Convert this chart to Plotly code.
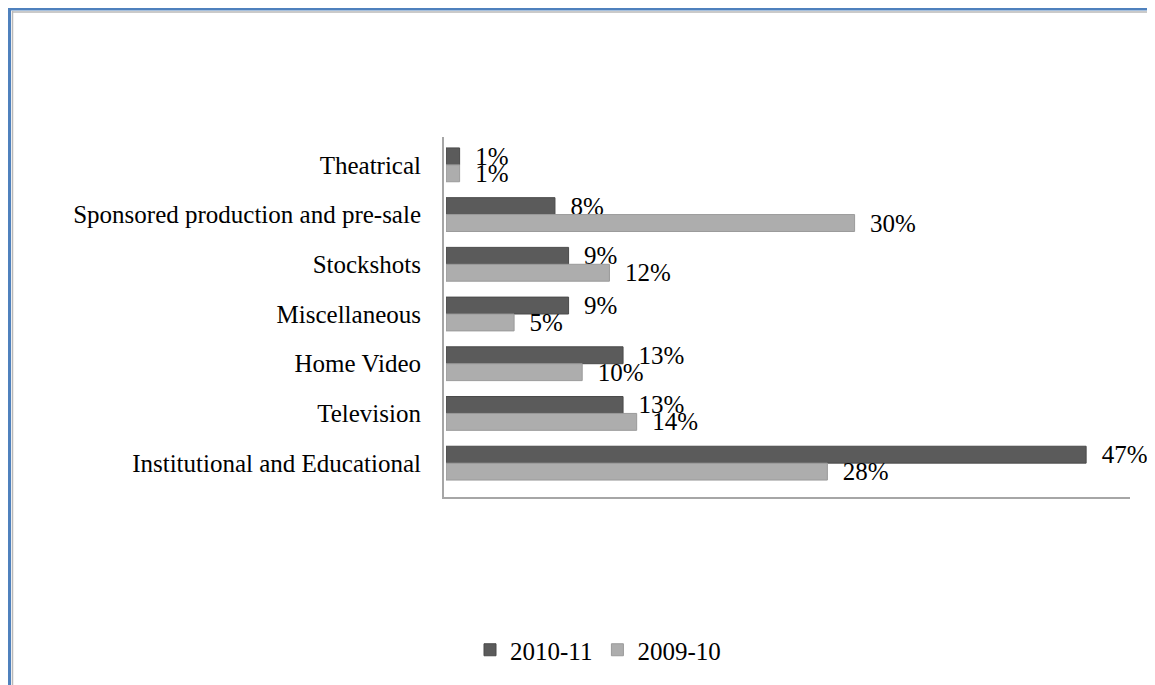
import plotly.graph_objects as go

categories = ["Theatrical", "Sponsored production and pre-sale", "Stockshots",
              "Miscellaneous", "Home Video", "Television", "Institutional and Educational"]
series_names = ["2010-11", "2009-10"]
values_2010_11 = [1, 8, 9, 9, 13, 13, 47]
values_2009_10 = [1, 30, 12, 5, 10, 14, 28]

OFF = 8  # page body margin
W, H = 1155 - OFF, 685 - OFF
ML, MT = 446 - OFF, 140 - OFF
PW, PH = 681, 348
MR, MB = W - ML - PW, H - MT - PH

def px(x):
    # screen pixel -> paper x
    return (x - OFF - ML) / PW

def py(y):
    # screen pixel -> paper y
    return (MT + PH - (y - OFF)) / PH

FONT = "Liberation Serif, Times New Roman, serif"
colors = ["#5b5b5b", "#adadad"]
edges = ["#4a4a4a", "#9a9a9a"]

fig = go.Figure()
for name, vals, c, e in zip(series_names, [values_2010_11, values_2009_10], colors, edges):
    fig.add_trace(go.Bar(
        y=categories, x=vals, name=name, orientation="h",
        marker=dict(color=c, line=dict(color=e, width=1)),
        text=[f"\u00a0\u00a0{v}%" for v in vals],
        textposition="outside", constraintext="none", cliponaxis=False,
        textfont=dict(family=FONT, size=25, color="black"),
        hoverinfo="skip",
    ))

shapes = []
# outer blue frame (top & left)
shapes.append(dict(type="line", xref="paper", yref="paper", x0=px(8), x1=px(W + 20), y0=py(9), y1=py(9),
                   line=dict(color="#4f81bd", width=3)))
shapes.append(dict(type="line", xref="paper", yref="paper", x0=px(9.5), x1=px(9.5), y0=py(8), y1=py(H + 20),
                   line=dict(color="#4f81bd", width=3)))
# inner gray frame
shapes.append(dict(type="line", xref="paper", yref="paper", x0=px(12), x1=px(W + 20), y0=py(12), y1=py(12),
                   line=dict(color="#b8b8b8", width=1.5)))
shapes.append(dict(type="line", xref="paper", yref="paper", x0=px(12.5), x1=px(12.5), y0=py(11), y1=py(H + 20),
                   line=dict(color="#b8b8b8", width=1.5)))
# axis wall and floor
shapes.append(dict(type="line", xref="paper", yref="paper", x0=px(443), x1=px(443), y0=py(137), y1=py(498),
                   line=dict(color="#a6a6a6", width=2)))
shapes.append(dict(type="line", xref="paper", yref="paper", x0=px(442), x1=px(1130), y0=py(498), y1=py(498),
                   line=dict(color="#a6a6a6", width=2)))

fig.update_layout(
    width=W, height=H,
    margin=dict(l=ML, r=MR, t=MT, b=MB),
    paper_bgcolor="white", plot_bgcolor="white",
    barmode="group", bargap=0.32, bargroupgap=0,
    font=dict(family=FONT, size=25, color="black"),
    xaxis=dict(range=[0, 50], showgrid=False, showticklabels=False, zeroline=False, showline=False),
    yaxis=dict(autorange="reversed", showgrid=False, showline=False, ticks="",
               ticklabelstandoff=24, tickfont=dict(family=FONT, size=25, color="black")),
    legend=dict(orientation="h", x=px(598), xanchor="center", y=py(650), yanchor="middle",
                font=dict(family=FONT, size=25, color="black"), traceorder="normal",
                itemwidth=30),
    shapes=shapes,
)

fig.write_html("out.html")
